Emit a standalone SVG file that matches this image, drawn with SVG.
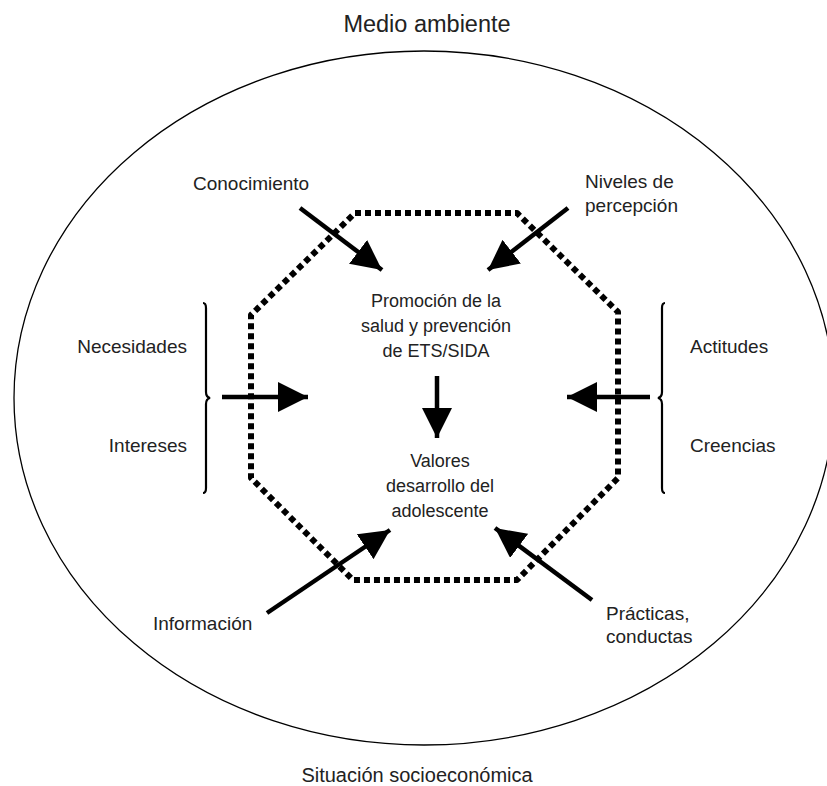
<svg xmlns="http://www.w3.org/2000/svg" width="827" height="786" viewBox="0 0 827 786">
<style>
text{font-family:"Liberation Sans",Arial,sans-serif;fill:#222}
.l{font-size:19px}
.c{font-size:18px;text-anchor:middle}
.arr{stroke:#000;stroke-width:4.5;fill:none;marker-end:url(#ah)}
.brace{stroke:#000;stroke-width:2.2;fill:none}
</style>
<defs>
<marker id="ah" viewBox="0 0 30 30" refX="30" refY="15" markerWidth="30" markerHeight="30" markerUnits="userSpaceOnUse" orient="auto">
<path d="M0,0 L30,15 L0,30 Z" fill="#000"/>
</marker>
</defs>
<rect width="827" height="786" fill="#fff"/>
<g id="environment">
<ellipse cx="424" cy="398" rx="410" ry="347" fill="none" stroke="#000" stroke-width="1.3"/>
<text x="427" y="32" text-anchor="middle" font-size="23.5">Medio ambiente</text>
<text x="417" y="782" text-anchor="middle" font-size="20">Situación socioeconómica</text>
</g>
<g id="octagon">
<path d="M355,213 L517,213 L618,312 L618,478 L517,580 L353,580 L251,478 L251,315 Z" fill="none" stroke="#000" stroke-width="6" stroke-dasharray="6 4" stroke-linejoin="round"/>
</g>
<g id="center-top">
<text class="c" x="436" y="307">Promoción de la</text>
<text class="c" x="436" y="332">salud y prevención</text>
<text class="c" x="436" y="357">de ETS/SIDA</text>
</g>
<g id="center-bottom">
<text class="c" x="440" y="467">Valores</text>
<text class="c" x="440" y="492">desarrollo del</text>
<text class="c" x="440" y="517">adolescente</text>
</g>
<g id="conocimiento"><text class="l" x="193" y="190">Conocimiento</text></g>
<g id="niveles"><text class="l" x="585" y="188">Niveles de</text><text class="l" x="585" y="212">percepción</text></g>
<g id="left-group">
<text class="l" x="187" y="353" text-anchor="end">Necesidades</text>
<text class="l" x="187" y="452" text-anchor="end">Intereses</text>
<path class="brace" d="M203,303 q3,0 3,5 L206,392 q0,5 4,6 q-4,1 -4,6 L206,488 q0,5 -3,5"/>
</g>
<g id="right-group">
<text class="l" x="690" y="353">Actitudes</text>
<text class="l" x="690" y="452">Creencias</text>
<path class="brace" d="M665,303 q-3,0 -3,5 L662,392 q0,5 -4,6 q4,1 4,6 L662,488 q0,5 3,5"/>
</g>
<g id="informacion"><text class="l" x="153" y="630">Información</text></g>
<g id="practicas"><text class="l" x="606" y="620">Prácticas,</text><text class="l" x="606" y="643">conductas</text></g>
<g id="connectors">
<line class="arr" x1="300" y1="208" x2="382" y2="270"/>
<line class="arr" x1="568" y1="208" x2="488" y2="270"/>
<line class="arr" x1="222" y1="397" x2="308" y2="397"/>
<line class="arr" x1="650" y1="397" x2="567" y2="397"/>
<line class="arr" x1="437" y1="376" x2="437" y2="438"/>
<line class="arr" x1="267" y1="613" x2="390" y2="530"/>
<line class="arr" x1="592" y1="600" x2="495" y2="528"/>
</g>
</svg>
